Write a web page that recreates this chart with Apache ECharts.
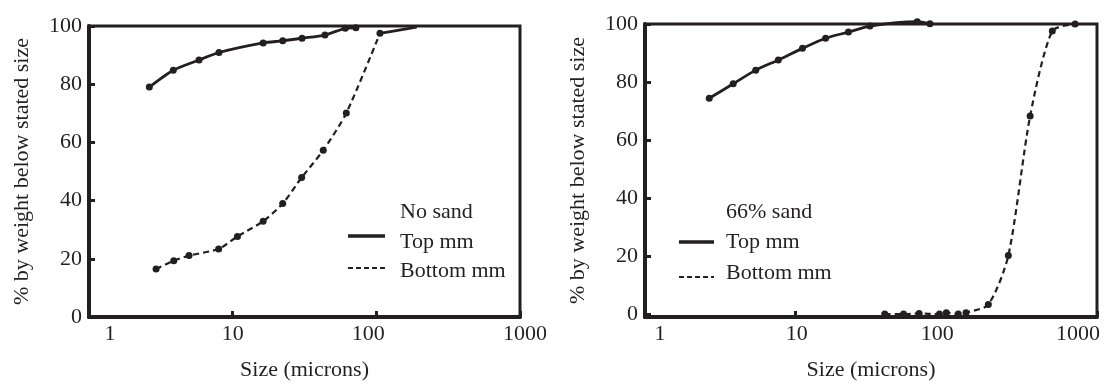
<!DOCTYPE html>
<html>
<head>
<meta charset="utf-8">
<script src="https://cdn.jsdelivr.net/npm/echarts@6/dist/echarts.min.js"></script>
<style>html,body{margin:0;padding:0;background:#fff}#c{width:1112px;height:392px}</style>
</head>
<body>
<div id="c"></div>
<script>
// ---- data ----
const yTickValues = [0, 20, 40, 60, 80, 100];
const xTickValues = [1, 10, 100, 1000];
const yAxisTitle = '% by weight below stated size';
const xAxisTitle = 'Size (microns)';

const leftTitle = 'No sand';
const rightTitle = '66% sand';
const seriesNames = ['Top mm', 'Bottom mm'];

const leftTopX = [2.63, 3.86, 5.83, 8.03, 16.3, 22.3, 30.4, 43.9, 60.8, 72.1];
const leftTopY = [79.0, 84.8, 88.3, 90.9, 94.2, 94.9, 95.8, 96.9, 99.2, 99.4];
const leftBottomX = [2.93, 3.89, 4.97, 7.99, 10.8, 16.3, 22.3, 30.2, 42.7, 61.8, 106];
const leftBottomY = [16.5, 19.3, 21.1, 23.4, 27.7, 32.9, 39.0, 47.9, 57.3, 70.1, 97.5];
const leftTailX = [106, 191];
const leftTailY = [97.5, 99.6];

const rightTopX = [2.67, 3.85, 5.43, 7.67, 11.1, 15.8, 22.4, 31.1, 64.1, 77.8];
const rightTopY = [74.4, 79.4, 84.1, 87.6, 91.6, 95.1, 97.2, 99.3, 100.8, 100.1];
const rightBottomX = [39, 52, 66, 90, 100, 120, 135, 190, 258, 360, 505, 715];
const rightBottomY = [0, 0, 0.2, 0, 0.5, 0, 0.5, 3.3, 20.2, 68.3, 97.6, 100];

// ---- chart ----
const zip = (xs, ys) => xs.map((x, i) => [x, ys[i]]);
const INK = '#231f20';
const FONT = 'Liberation Serif';
const FS = 22;

function xLabelCfg(shifts) {
  const rich = {};
  xTickValues.forEach(v => {
    const s = shifts[v] || 0;
    rich['p' + v] = {
      fontFamily: FONT, fontSize: FS, color: INK,
      padding: s >= 0 ? [0, 0, 0, 2 * s] : [0, -2 * s, 0, 0]
    };
  });
  return {
    show: true, margin: 6, fontFamily: FONT, fontSize: FS, color: INK,
    showMinLabel: true, showMaxLabel: true,
    formatter: function (val) {
      const v = Math.round(val);
      return '{p' + v + '|' + v + '}';
    },
    rich: rich
  };
}

function xAxisCfg(gi, shifts) {
  return {
    type: 'log', logBase: 10, gridIndex: gi, min: 1, max: 1000,
    name: xAxisTitle, nameLocation: 'middle', nameGap: 42,
    nameTextStyle: { fontFamily: FONT, fontSize: FS, color: INK },
    axisLine: { show: true, onZero: false, lineStyle: { color: INK, width: 4 } },
    axisTick: { show: true, inside: true, length: 6, lineStyle: { color: INK, width: 3 } },
    minorTick: { show: false },
    splitLine: { show: false },
    axisLabel: xLabelCfg(shifts)
  };
}

function yAxisCfg(gi, min) {
  return {
    type: 'value', gridIndex: gi, min: min, max: 100,
    name: yAxisTitle, nameLocation: 'middle', nameGap: 56, nameRotate: 90,
    nameTextStyle: { fontFamily: FONT, fontSize: FS, color: INK },
    axisLine: { show: true, onZero: false, lineStyle: { color: INK, width: 4 } },
    axisTick: { show: true, inside: true, length: 6, lineStyle: { color: INK, width: 3 }, customValues: yTickValues },
    splitLine: { show: false },
    axisLabel: { show: true, margin: 7, fontFamily: FONT, fontSize: FS, color: INK, customValues: yTickValues }
  };
}

function lineSeries(name, gi, xs, ys, dashed, showSym) {
  return {
    name: name, type: 'line', xAxisIndex: gi, yAxisIndex: gi,
    data: zip(xs, ys), smooth: 0.25, clip: false,
    symbol: 'circle', symbolSize: 7, showSymbol: showSym !== false,
    itemStyle: { color: INK },
    lineStyle: { color: INK, width: dashed ? 2.2 : 2.8, type: dashed ? [6, 4] : 'solid' },
    emphasis: { disabled: true }, animation: false
  };
}

function legendGraphics(lineX1, lineX2, textX, titleY, topLineY, topTextY, botLineY, botTextY, title) {
  const ts = (t, y) => ({
    type: 'text', x: textX, y: y,
    style: { text: t, fontFamily: FONT, fontSize: FS, fill: INK, verticalAlign: 'middle', align: 'left' }
  });
  return [
    ts(title, titleY),
    { type: 'line', shape: { x1: lineX1, y1: topLineY, x2: lineX2, y2: topLineY }, style: { stroke: INK, lineWidth: 3.5 } },
    ts(seriesNames[0], topTextY),
    { type: 'line', shape: { x1: lineX1, y1: botLineY, x2: lineX2, y2: botLineY }, style: { stroke: INK, lineWidth: 1.8, lineDash: [5, 3] } },
    ts(seriesNames[1], botTextY)
  ];
}

const chart = echarts.init(document.getElementById('c'), null, { renderer: 'canvas' });
chart.setOption({
  backgroundColor: '#fff',
  animation: false,
  grid: [
    { left: 89, right: 592, top: 26, bottom: 75, show: true, borderColor: INK, borderWidth: 3, backgroundColor: 'transparent' },
    { left: 645, right: 15, top: 24, bottom: 75, show: true, borderColor: INK, borderWidth: 3, backgroundColor: 'transparent' }
  ],
  xAxis: [
    xAxisCfg(0, { 1: 21, 10: 0, 100: -8, 1000: 5 }),
    xAxisCfg(1, { 1: 15, 10: 1, 100: -9, 1000: -19 })
  ],
  yAxis: [yAxisCfg(0, 0), yAxisCfg(1, -1)],
  series: [
    lineSeries(seriesNames[0], 0, leftTopX, leftTopY, false),
    lineSeries(seriesNames[1], 0, leftBottomX, leftBottomY, true),
    lineSeries(seriesNames[1] + ' tail', 0, leftTailX, leftTailY, false, false),
    lineSeries(seriesNames[0], 1, rightTopX, rightTopY, false),
    lineSeries(seriesNames[1], 1, rightBottomX, rightBottomY, true)
  ],
  graphic: [].concat(
    legendGraphics(348, 385, 400, 212, 236, 242, 268, 271, leftTitle),
    legendGraphics(679, 714, 726, 212, 242, 242, 277, 273, rightTitle)
  )
});
</script>
</body>
</html>
